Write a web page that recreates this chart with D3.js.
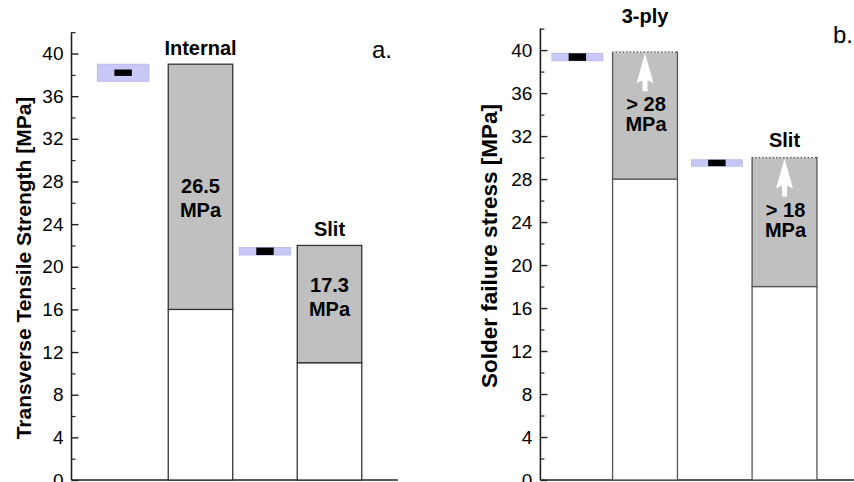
<!DOCTYPE html>
<html>
<head>
<meta charset="utf-8">
<style>
body { margin: 0; background: #fff; }
svg text { font-family: "Liberation Sans", Arial, sans-serif; fill: #000; }
.axis text { font-size: 19px; }
.axis line, .axis path { stroke: #222; stroke-width: 1.4px; }
.minor line { stroke-width: 1.2px; }
.ylab { font-weight: bold; }
.lab { font-size: 20px; font-weight: bold; }
.tag { font-size: 24px; }
</style>
</head>
<body>
<svg id="chart" width="854" height="482"></svg>
<script src="https://cdn.jsdelivr.net/npm/d3@7"></script>
<script>

// panel a: transverse tensile strength
const aBarX = [2, 4];
const aBarTop = [39, 22];
const aBarBase = [16, 11];
const aBarTitle = ['Internal', 'Slit'];
const aBarValue = [26.5, 17.3];
const aBarText = [['26.5', 'MPa'], ['17.3', 'MPa']];
const aMarkX = [0.8, 3];
const aMarkLo = [37.4, 21.1];
const aMarkHi = [39.0, 21.8];
const aCoreLo = [37.9, 21.1];
const aCoreHi = [38.5, 21.8];

// panel b: solder failure stress
const bBarX = [1.5, 3.5];
const bBarTop = [39.8, 30];
const bBarBase = [28, 18];
const bBarTitle = ['3-ply', 'Slit'];
const bBarText = [['> 28', 'MPa'], ['> 18', 'MPa']];
const bMarkX = [0.53, 2.53];
const bMarkLo = [39.0, 29.2];
const bMarkHi = [39.7, 29.8];
const bCoreLo = [39.0, 29.2];
const bCoreHi = [39.7, 29.8];

const majorTicks = d3.range(0, 41, 4);
const minorTicks = d3.range(2, 43, 4);

const svg = d3.select('#chart');

function panel(o) {
    const g = svg.append('g');

    const x = d3.scaleLinear().domain([0, o.xMax]).range([o.left, o.left + o.unit * o.xMax]);
    const y = d3.scaleLinear().domain([0, 42]).range([480, o.top]);

    // x axis line
    g.append('line')
        .attr('x1', x(0)).attr('x2', x(o.xMax))
        .attr('y1', y(0)).attr('y2', y(0))
        .attr('stroke', '#222').attr('stroke-width', 1.6);

    const bw = o.barW * o.unit;

    // white lower parts
    g.selectAll('.low').data(o.barX).enter().append('rect')
        .attr('x', d => x(d) - bw / 2)
        .attr('y', (d, i) => y(o.barBase[i]))
        .attr('width', bw)
        .attr('height', (d, i) => y(0) - y(o.barBase[i]))
        .attr('fill', '#fff').attr('stroke', o.barStroke).attr('stroke-width', 1.3);

    // gray upper parts
    g.selectAll('.up').data(o.barX).enter().append('rect')
        .attr('x', d => x(d) - bw / 2)
        .attr('y', (d, i) => y(o.barTop[i]))
        .attr('width', bw)
        .attr('height', (d, i) => y(o.barBase[i]) - y(o.barTop[i]))
        .attr('fill', '#c0c0c0')
        .attr('stroke', o.barStroke).attr('stroke-width', 1.3);

    if (o.openTop) {
        g.selectAll('.topedge').data(o.barX).enter().append('line')
            .attr('x1', d => x(d) - bw / 2 + 1).attr('x2', d => x(d) + bw / 2 - 1)
            .attr('y1', (d, i) => y(o.barTop[i])).attr('y2', (d, i) => y(o.barTop[i]))
            .attr('stroke', '#f2f2f2').attr('stroke-width', 1.6)
            .attr('stroke-dasharray', '2,1.5');
    }

    // range markers
    const mw = o.markW * o.unit, cw = o.coreW * o.unit;
    g.selectAll('.mark').data(o.markX).enter().append('rect')
        .attr('x', d => x(d) - mw / 2)
        .attr('y', (d, i) => y(o.markHi[i]))
        .attr('width', mw)
        .attr('height', (d, i) => y(o.markLo[i]) - y(o.markHi[i]))
        .attr('fill', '#c8c8f6').attr('stroke', '#b4b4ee').attr('stroke-width', 0.8);
    g.selectAll('.core').data(o.markX).enter().append('rect')
        .attr('x', d => x(d) - cw / 2)
        .attr('y', (d, i) => y(o.coreHi[i]))
        .attr('width', cw)
        .attr('height', (d, i) => y(o.coreLo[i]) - y(o.coreHi[i]))
        .attr('fill', '#000');

    // y axis
    g.append('g').attr('class', 'axis')
        .attr('transform', 'translate(' + o.left + ',0)')
        .call(d3.axisLeft(y).tickValues(majorTicks).tickSizeInner(-7).tickSizeOuter(0).tickPadding(8))
        .call(a => a.select('.domain').remove());
    g.append('g').attr('class', 'axis minor')
        .attr('transform', 'translate(' + o.left + ',0)')
        .call(d3.axisLeft(y).tickValues(minorTicks).tickSizeInner(-4).tickSizeOuter(0).tickFormat(''))
        .call(a => a.select('.domain').remove());
    g.append('line')
        .attr('x1', o.left).attr('x2', o.left)
        .attr('y1', y(42)).attr('y2', y(0))
        .attr('stroke', '#222').attr('stroke-width', 1.6);

    g.append('text').attr('class', 'ylab')
        .attr('transform', 'translate(' + o.labX + ',' + o.labY + ') rotate(-90)')
        .attr('text-anchor', 'middle')
        .style('font-size', o.labSize + 'px')
        .text(o.ylabel);

    // bar titles
    g.selectAll('.title').data(o.barTitle).enter().append('text')
        .attr('class', 'lab')
        .attr('x', (d, i) => x(o.barX[i]))
        .attr('y', (d, i) => y(o.barTop[i]) - o.titleGap[i])
        .attr('text-anchor', 'middle')
        .text(d => d);

    g.append('text').attr('class', 'tag')
        .attr('x', o.tagX).attr('y', o.tagY)
        .text(o.tag);

    return {g, x, y, bw};
}

// panel a
const pa = panel({
    left: 71.5, top: 32.2, unit: 64.5, xMax: 5.06, barW: 1, markW: 0.8, coreW: 0.27,
    barX: aBarX, barTop: aBarTop, barBase: aBarBase, barTitle: aBarTitle,
    markX: aMarkX, markLo: aMarkLo, markHi: aMarkHi, coreLo: aCoreLo, coreHi: aCoreHi,
    barStroke: '#333', openTop: false, titleGap: [9, 9],
    ylabel: 'Transverse Tensile Strength [MPa]', labX: 30.5, labY: 268, labSize: 21,
    tag: 'a.', tagX: 372, tagY: 58
});
aBarText.forEach((lines, i) => {
    const cy = pa.y(aBarValue[i]);
    lines.forEach((t, j) => {
        pa.g.append('text').attr('class', 'lab')
            .attr('x', pa.x(aBarX[i]))
            .attr('y', cy - 4 + j * 24)
            .attr('text-anchor', 'middle')
            .text(t);
    });
});

// panel b
const pb = panel({
    left: 540.4, top: 28.6, unit: 69.75, xMax: 4.7, barW: 0.93, markW: 0.73, coreW: 0.25,
    barX: bBarX, barTop: bBarTop, barBase: bBarBase, barTitle: bBarTitle,
    markX: bMarkX, markLo: bMarkLo, markHi: bMarkHi, coreLo: bCoreLo, coreHi: bCoreHi,
    barStroke: '#555', openTop: true, titleGap: [29, 11],
    ylabel: 'Solder failure stress [MPa]', labX: 497, labY: 246, labSize: 22.5,
    tag: 'b.', tagX: 833, tagY: 43
});
bBarX.forEach((bx, i) => {
    const cx = pb.x(bx), tip = pb.y(bBarTop[i]) + 1;
    const pts = [
        [cx, tip], [cx + 8.5, tip + 30], [cx + 2.5, tip + 27],
        [cx + 2.5, tip + 38], [cx - 2.5, tip + 38], [cx - 2.5, tip + 27], [cx - 8.5, tip + 30]
    ];
    pb.g.append('path')
        .attr('d', d3.line()(pts) + 'Z')
        .attr('fill', '#fff');
    bBarText[i].forEach((t, j) => {
        pb.g.append('text').attr('class', 'lab')
            .attr('x', cx + 1)
            .attr('y', tip + 58 + j * 20)
            .attr('text-anchor', 'middle')
            .text(t);
    });
});

</script>
</body>
</html>
